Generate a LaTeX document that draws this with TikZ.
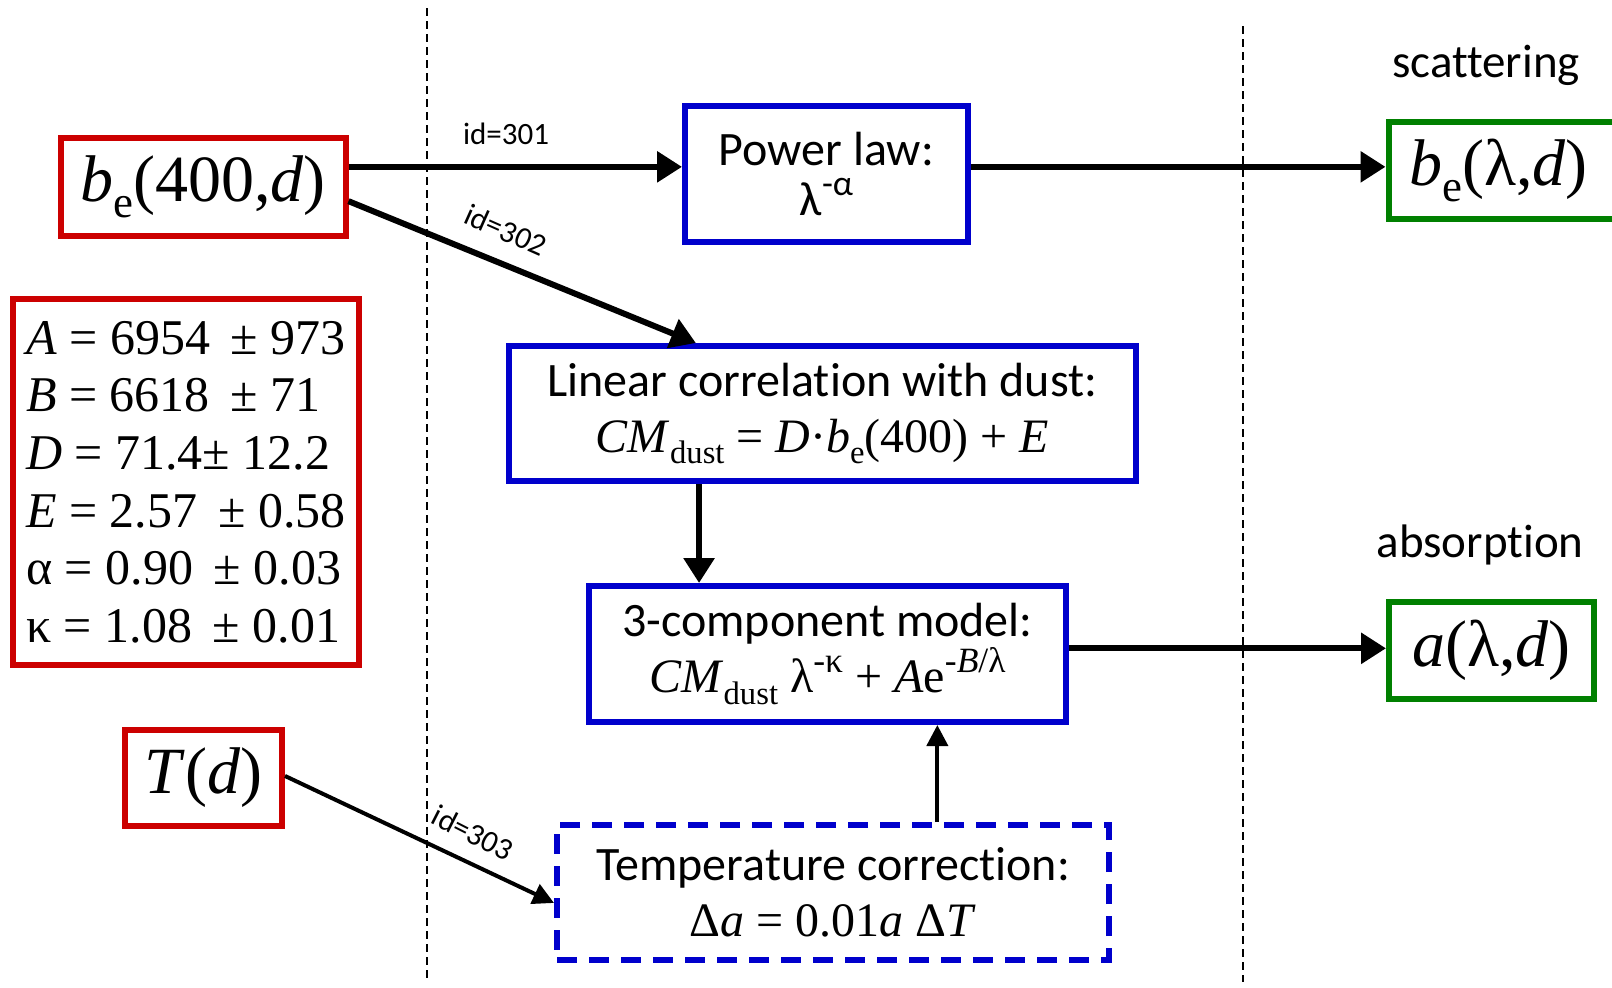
\documentclass[tikz,border=0pt]{standalone}
\usepackage{fontspec}
\setmainfont{Liberation Serif}
\newfontfamily\sansfnt[Ligatures=NoCommon]{Carlito}
\usetikzlibrary{arrows.meta,calc}
\definecolor{boxred}{RGB}{204,0,0}
\definecolor{boxblue}{RGB}{0,0,204}
\definecolor{boxgreen}{RGB}{0,128,0}
\makeatletter
\newcommand\supr[1]{\raisebox{0.42em}{\fontsize{\fpeval{0.74*\f@size}}{0}\selectfont #1}}
\newcommand\subr[1]{\raisebox{-0.24em}{\fontsize{\fpeval{0.68*\f@size}}{0}\selectfont #1}}
\makeatother
\begin{document}
\begin{tikzpicture}[x=1pt,y=-1pt,
  redbox/.style={draw=boxred,line width=6pt,inner sep=0pt,align=center,fill=white},
  bluebox/.style={draw=boxblue,line width=6pt,inner sep=0pt,align=center,fill=white},
  greenbox/.style={draw=boxgreen,line width=6pt,inner sep=0pt,align=center,fill=white},
  thickarrow/.style={line width=6pt,-{Triangle[length=25pt,width=30pt]}},
  thinarrow/.style={line width=4pt,-{Triangle[length=21pt,width=21pt]}},
  guide/.style={line width=1.6pt,dash pattern=on 8pt off 5pt},
  idlabel/.style={font=\sansfnt\fontsize{31}{34}\selectfont,inner sep=0pt},
  headlabel/.style={font=\sansfnt\fontsize{47}{50}\selectfont,inner sep=0pt},
  mixtext/.style={font=\fontsize{48}{56}\selectfont}
]
\useasboundingbox (0,0) rectangle (1612,988);

% guide lines
\coordinate (g1t) at (427,8);
\coordinate (g1b) at (427,982);
\coordinate (g2t) at (1243,26);
\coordinate (g2b) at (1243,982);
\draw[guide] (g1t) -- (g1b);
\draw[guide] (g2t) -- (g2b);

% left inputs
\node[redbox,minimum width=285pt,minimum height=98pt,font=\fontsize{66}{70}\selectfont] (be400) at (203,186.6)
  {\textit{b}\subr{e}(400,\textit{d})};
\node[redbox,minimum width=346pt,minimum height=366pt,font=\fontsize{50}{57.6}\selectfont,align=left] (params) at (186,482)
  {\textit{A} = 6954 \,± 973\\
   \textit{B} = 6618 \,± 71\\
   \textit{D} = 71.4± 12.2\\
   \textit{E} = 2.57 \,± 0.58\\
   α = 0.90 \,± 0.03\\
   κ = 1.08 \,± 0.01};
\node[redbox,minimum width=157pt,minimum height=96pt,font=\fontsize{66}{70}\selectfont] (Td) at (203.5,778)
  {\textit{T}(\textit{d})};

% middle processing
\node[bluebox,minimum width=283pt,minimum height=136pt,font=\sansfnt\fontsize{48}{50}\selectfont] (power) at (826.5,174)
  {Power law:\\ λ\supr{-α}};
\node[bluebox,minimum width=627pt,minimum height=135pt,mixtext] (linear) at (822.5,413.5)
  {{\sansfnt Linear correlation with dust:}\\
   \textit{CM}\subr{dust} = \textit{D}·\textit{b}\subr{e}(400) + \textit{E}};
\node[bluebox,minimum width=477pt,minimum height=136pt,mixtext] (three) at (827.5,654)
  {{\sansfnt 3-component model:}\\
   \textit{CM}\subr{dust} λ\supr{-κ} + \textit{A}e\supr{-\textit{B}/λ}};
\node[draw=boxblue,line width=6pt,dash pattern=on 20pt off 12pt,inner sep=0pt,align=center,minimum width=552pt,minimum height=135pt,mixtext] (temp) at (833,892.5)
  {{\sansfnt Temperature correction:}\\
   Δ\textit{a} = 0.01\textit{a} Δ\textit{T}};

% outputs
\node[headlabel] (scat) at (1486,65) {scattering};
\node[headlabel] (absn) at (1480,545) {absorption};
\node[greenbox,minimum width=240pt,minimum height=97pt,font=\fontsize{66}{70}\selectfont] (bel) at (1508.5,170.5)
  {\textit{b}\subr{e}(λ,\textit{d})\hspace{20pt}};
\node[greenbox,minimum width=205pt,minimum height=97pt,font=\fontsize{66}{70}\selectfont] (aout) at (1491.5,650.5)
  {\textit{a}(λ,\textit{d})};

% connectors
\coordinate (s1) at ($(be400.north east)!0.31!(be400.south east)$);
\draw[thickarrow] (s1) -- (s1 -| power.west);
\draw[thickarrow] (power.east |- s1) -- (s1 -| bel.west);
\coordinate (s2) at ($(be400.north east)!0.64!(be400.south east)$);
\coordinate (e2) at ($(linear.north west)!0.30!(linear.north east)$);
\draw[thickarrow] (s2) -- (e2);
\coordinate (s3) at ($(linear.south west)!0.305!(linear.south east)$);
\draw[thickarrow] (s3) -- (s3 |- three.north);
\coordinate (s4) at ($(three.north east)!0.46!(three.south east)$);
\draw[thickarrow] (s4) -- (s4 -| aout.west);
\coordinate (s5) at ($(temp.north west)!0.687!(temp.north east)$);
\draw[thinarrow] (s5) -- (s5 |- three.south);
\coordinate (s6) at ($(Td.north east)!0.48!(Td.south east)$);
\coordinate (e6) at ($(temp.north west)!0.574!(temp.south west)$);
\draw[thinarrow] (s6) -- (e6);

% edge labels
\node[idlabel] (id301) at (506,134) {id=301};
\node[idlabel,rotate=-24] (id302) at (506,230) {id=302};
\node[idlabel,rotate=-27] (id303) at (473,833) {id=303};
\end{tikzpicture}
\end{document}
